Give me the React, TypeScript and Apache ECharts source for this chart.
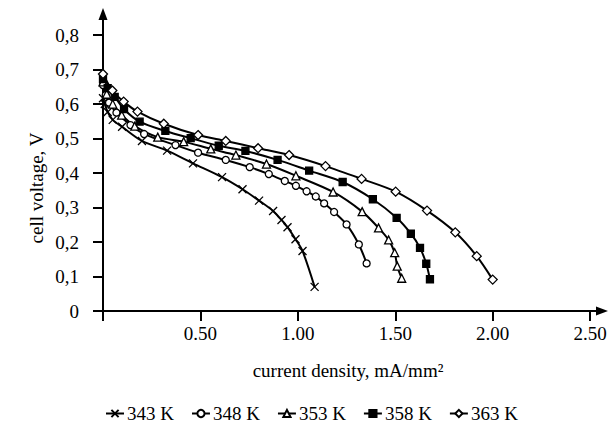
import React, { useEffect, useRef } from "react";
import * as echarts from "echarts";

const seriesNames = ["343 K", "348 K", "353 K", "358 K", "363 K"];

const j343 = [0, 0.009, 0.024, 0.05, 0.098, 0.2, 0.329, 0.462, 0.611, 0.716, 0.801, 0.873, 0.916, 0.947, 0.988, 1.024, 1.086];
const v343 = [0.617, 0.6, 0.577, 0.554, 0.534, 0.493, 0.465, 0.428, 0.388, 0.353, 0.32, 0.29, 0.264, 0.243, 0.208, 0.174, 0.07];

const j348 = [0, 0.014, 0.031, 0.069, 0.141, 0.211, 0.372, 0.488, 0.63, 0.753, 0.851, 0.933, 0.99, 1.045, 1.092, 1.135, 1.186, 1.25, 1.313, 1.353];
const v348 = [0.655, 0.626, 0.604, 0.575, 0.539, 0.513, 0.481, 0.459, 0.438, 0.417, 0.397, 0.377, 0.363, 0.347, 0.332, 0.312, 0.287, 0.251, 0.193, 0.138];

const j353 = [0, 0.019, 0.05, 0.096, 0.163, 0.281, 0.414, 0.553, 0.682, 0.839, 0.99, 1.181, 1.33, 1.414, 1.466, 1.497, 1.51, 1.533];
const v353 = [0.664, 0.629, 0.6, 0.568, 0.536, 0.504, 0.491, 0.47, 0.452, 0.426, 0.392, 0.345, 0.288, 0.241, 0.206, 0.169, 0.13, 0.095];

const j358 = [0, 0.024, 0.06, 0.108, 0.188, 0.32, 0.45, 0.594, 0.731, 0.896, 1.058, 1.23, 1.385, 1.507, 1.58, 1.627, 1.659, 1.678];
const v358 = [0.672, 0.646, 0.621, 0.585, 0.549, 0.522, 0.501, 0.479, 0.464, 0.438, 0.407, 0.374, 0.324, 0.27, 0.224, 0.183, 0.137, 0.092];

const j363 = [0, 0.048, 0.106, 0.177, 0.312, 0.488, 0.63, 0.796, 0.955, 1.142, 1.327, 1.502, 1.663, 1.808, 1.918, 2.0];
const v363 = [0.687, 0.639, 0.607, 0.578, 0.543, 0.51, 0.493, 0.472, 0.452, 0.42, 0.383, 0.346, 0.291, 0.228, 0.159, 0.091];

const xTickValues = [0, 0.5, 1, 1.5, 2, 2.5];
const xLabelValues = [0.5, 1, 1.5, 2, 2.5];
const yTickValues = [0, 0.1, 0.2, 0.3, 0.4, 0.5, 0.6, 0.7, 0.8];

const xTitle = "current density, mA/mm²";
const yTitle = "cell voltage, V";

const zip = (xs: number[], ys: number[]) => xs.map((x, i) => [x, ys[i]]);

const FONT = "Liberation Serif";
const FS = 19;

export default function App() {
  const ref = useRef<HTMLDivElement>(null);
  useEffect(() => {
    if (!ref.current) return;
    const chart = echarts.init(ref.current, undefined, { renderer: "svg" });
    const lineStyle = { color: "#000", width: 2 };
    const mk = (name: string, data: number[][], symbol: string, size: number, fill: string) => ({
      name,
      type: "line",
      data,
      smooth: 0.3,
      symbol,
      symbolSize: size,
      showSymbol: true,
      lineStyle,
      itemStyle: { color: fill, borderColor: "#000", borderWidth: 1.3 },
      emphasis: { disabled: true },
      z: 3,
    });
    chart.setOption({
      animation: false,
      backgroundColor: "#fff",
      textStyle: { fontFamily: FONT, color: "#000" },
      grid: { left: 103, right: 8, top: 14, bottom: 117 },
      xAxis: {
        type: "value",
        min: 0,
        max: 2.561,
        splitLine: { show: false },
        axisLine: {
          show: true,
          onZero: false,
          symbol: ["none", "triangle"],
          symbolSize: [9, 12],
          lineStyle: { color: "#000", width: 2 },
        },
        axisTick: {
          show: true,
          length: 10,
          customValues: xTickValues,
          lineStyle: { color: "#000", width: 2 },
        },
        axisLabel: {
          customValues: xLabelValues,
          formatter: (v: number) => v.toFixed(2),
          fontFamily: FONT,
          fontSize: FS,
          color: "#000",
          margin: 13,
        },
      },
      yAxis: {
        type: "value",
        min: 0,
        max: 0.861,
        splitLine: { show: false },
        axisLine: {
          show: true,
          onZero: false,
          symbol: ["none", "triangle"],
          symbolSize: [9, 12],
          lineStyle: { color: "#000", width: 2 },
        },
        axisTick: {
          show: true,
          length: 10,
          customValues: yTickValues,
          lineStyle: { color: "#000", width: 2 },
        },
        axisLabel: {
          customValues: yTickValues,
          formatter: (v: number) => (v === 0 ? "0" : v.toFixed(1).replace(".", ",")),
          fontFamily: FONT,
          fontSize: FS,
          color: "#000",
          margin: 24,
        },
      },
      graphic: [
        {
          type: "text",
          x: 348,
          y: 370,
          style: {
            text: xTitle,
            font: `${FS}px "${FONT}"`,
            fill: "#000",
            align: "center",
            verticalAlign: "middle",
          },
        },
        {
          type: "text",
          x: 36,
          y: 188,
          rotation: Math.PI / 2,
          style: {
            text: yTitle,
            font: `${FS}px "${FONT}"`,
            fill: "#000",
            align: "center",
            verticalAlign: "middle",
          },
        },
      ],
      legend: {
        top: 399,
        left: 100,
        itemWidth: 18,
        itemHeight: 9,
        itemGap: 17,
        textStyle: { fontFamily: FONT, fontSize: FS, color: "#000", padding: [0, 0, 0, -2] },
        data: seriesNames,
      },
      series: [
        mk(seriesNames[0], zip(j343, v343), "path://M0,0L10,10M10,0L0,10", 8, "#000"),
        mk(seriesNames[1], zip(j348, v348), "circle", 7, "#fff"),
        mk(seriesNames[2], zip(j353, v353), "triangle", 8, "#fff"),
        mk(seriesNames[3], zip(j358, v358), "rect", 7, "#000"),
        mk(seriesNames[4], zip(j363, v363), "diamond", 9, "#fff"),
      ],
    });
    return () => chart.dispose();
  }, []);
  return (
    <div
      ref={ref}
      style={{ position: "fixed", left: 0, top: 0, width: 610, height: 428 }}
    />
  );
}
